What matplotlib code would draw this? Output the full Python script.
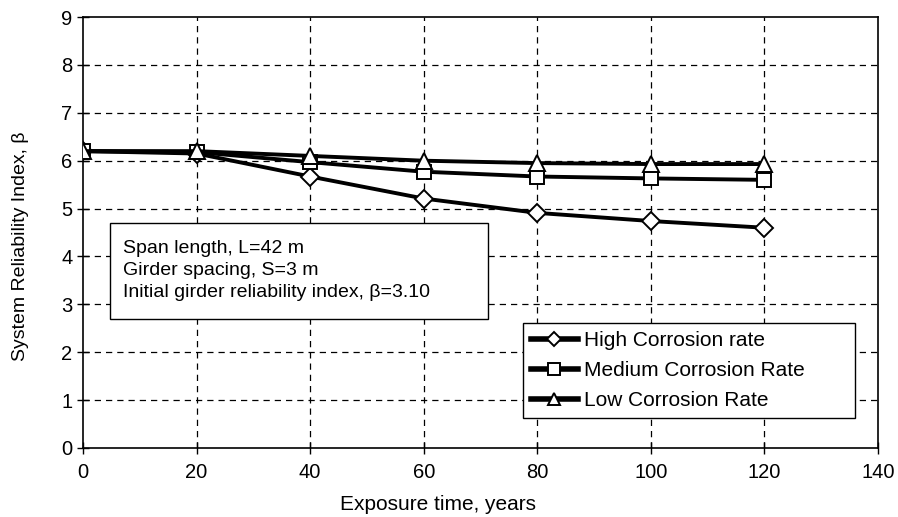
import matplotlib
matplotlib.use("Agg")
import matplotlib.pyplot as plt
from matplotlib.patches import Rectangle

plt.rcParams['font.family'] = ['Liberation Sans', 'DejaVu Sans']

years = [0, 20, 40, 60, 80, 100, 120]
high_rate = [6.20, 6.15, 5.67, 5.21, 4.91, 4.74, 4.60]
medium_rate = [6.20, 6.18, 5.97, 5.77, 5.67, 5.63, 5.60]
low_rate = [6.20, 6.20, 6.10, 6.00, 5.95, 5.93, 5.93]

series = [
    ("High Corrosion rate", high_rate, "D", 9),
    ("Medium Corrosion Rate", medium_rate, "s", 10),
    ("Low Corrosion Rate", low_rate, "^", 11),
]

x_ticks = [0, 20, 40, 60, 80, 100, 120, 140]
y_ticks = [0, 1, 2, 3, 4, 5, 6, 7, 8, 9]

info_lines = [
    "Span length, L=42 m",
    "Girder spacing, S=3 m",
    "Initial girder reliability index, \u03b2=3.10",
]

fig = plt.figure(figsize=(8.98, 5.17), dpi=100)
ax = fig.add_axes([0.0924, 0.1335, 0.8853, 0.8335])

for label, vals, mk, ms in series:
    ax.plot(years, vals, color="black", linewidth=2.8, marker=mk,
            markersize=ms, markerfacecolor="white", markeredgecolor="black",
            markeredgewidth=1.4, label=label, zorder=3)

ax.set_xlim(0, 140)
ax.set_ylim(0, 9)
ax.set_xticks(x_ticks)
ax.set_yticks(y_ticks)
ax.tick_params(direction="inout", length=9, width=1, labelsize=14.5,
               colors="black")
ax.tick_params(axis="x", pad=6)
ax.tick_params(axis="y", pad=3)
for s in ax.spines.values():
    s.set_linewidth(1.2)
    s.set_color("black")

# dashed grid at interior positions only
for xv in x_ticks[1:-1]:
    ax.axvline(xv, color="black", linestyle=(0, (5, 4)), linewidth=0.9, zorder=1)
for yv in y_ticks[1:-1]:
    ax.axhline(yv, color="black", linestyle=(0, (5, 4)), linewidth=0.9, zorder=1)

ax.set_xlabel("Exposure time, years", fontsize=15, va="center")
ax.set_ylabel("System Reliability Index, \u03b2", fontsize=14, va="center")
ax.xaxis.set_label_coords(0.447, -0.132)
ax.yaxis.set_label_coords(-0.079, 0.469)

# annotation box with bridge parameters
ax.add_patch(Rectangle((0.034, 0.299), 0.475, 0.223, transform=ax.transAxes,
                       facecolor="white", edgecolor="black", linewidth=1.0,
                       zorder=4))
for i, line in enumerate(info_lines):
    ax.text(0.050, 0.462 - i * 0.051, line, transform=ax.transAxes,
            fontsize=14, va="center", ha="left", zorder=5)

leg = ax.legend(loc="lower left", bbox_to_anchor=(0.553, 0.070, 0.418, 0.22),
                mode="expand", borderaxespad=0, fontsize=15, frameon=True,
                fancybox=False, edgecolor="black", handlelength=2.3,
                handletextpad=0.25, labelspacing=0.52, borderpad=0.38,
                markerscale=0.8)
leg.get_frame().set_linewidth(1.0)
leg.get_frame().set_alpha(1)
leg.set_zorder(6)
for h in leg.legend_handles:
    h.set_linewidth(4)

fig.savefig("out.png", dpi=100)
